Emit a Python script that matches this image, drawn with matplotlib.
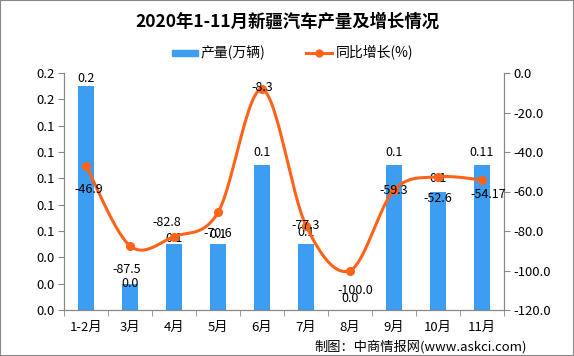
import numpy as np
import matplotlib
matplotlib.use('Agg')
import matplotlib.pyplot as plt
from matplotlib.patches import Rectangle
from matplotlib.ticker import FormatStrFormatter, MultipleLocator

plt.rcParams['font.family'] = ['Noto Sans CJK SC', 'DejaVu Sans']

# 数据
months = ['1-2月', '3月', '4月', '5月', '6月', '7月', '8月', '9月', '10月', '11月']
output = [0.17, 0.02, 0.05, 0.05, 0.11, 0.05, 0.0, 0.11, 0.09, 0.11]
output_labels = ['0.2', '0.0', '0.1', '0.1', '0.1', '0.1', '0.0', '0.1', '0.1', '0.11']
growth = [-46.9, -87.5, -82.8, -70.6, -8.3, -77.3, -100.0, -59.3, -52.6, -54.17]
growth_labels = ['-46.9', '-87.5', '-82.8', '-70.6', '-8.3', '-77.3', '-100.0', '-59.3', '-52.6', '-54.17']

# 标签偏移(像素)
bar_dy = [8, 0, 6, 10, 13, 12, 12, 13, 13, 13]
line_off = [(3, -24), (-3, -24), (-7, 14), (0, -21), (0, 2), (0, 0), (5, -20), (0, 0), (0, -22), (6, -15)]

bar_color = '#3D9DF0'
line_color = '#FF6319'


def catmull_rom(xs, ys, n=30):
    px = np.concatenate([[xs[0]], xs, [xs[-1]]])
    py = np.concatenate([[ys[0]], ys, [ys[-1]]])
    out_x, out_y = [], []
    t = np.linspace(0, 1, n)
    for i in range(1, len(px) - 2):
        for arr, out in ((px, out_x), (py, out_y)):
            p0, p1, p2, p3 = arr[i - 1], arr[i], arr[i + 1], arr[i + 2]
            out.extend(0.5 * (2 * p1 + (-p0 + p2) * t
                              + (2 * p0 - 5 * p1 + 4 * p2 - p3) * t ** 2
                              + (-p0 + 3 * p1 - 3 * p2 + p3) * t ** 3))
    return np.array(out_x), np.array(out_y)


fig = plt.figure(figsize=(5.74, 3.56), dpi=100)
ax = fig.add_axes([64 / 574, 46 / 356, 440 / 574, 237 / 356])
ax2 = ax.twinx()

x = np.arange(len(months))
ax.bar(x, output, width=0.37, color=bar_color, zorder=2)
ax.set_xlim(-0.5, len(months) - 0.5)
ax.set_ylim(0, 0.18)
ax.yaxis.set_major_locator(MultipleLocator(0.02))
ax.yaxis.set_major_formatter(FormatStrFormatter('%.1f'))
ax.set_xticks(x)
ax.set_xticklabels(months, fontsize=9.5)
ax.set_xticks(np.arange(-0.5, len(months)), minor=True)
ax.tick_params(axis='x', which='major', length=0, pad=8)
ax.tick_params(axis='x', which='minor', length=4, color='#888888')
ax.tick_params(axis='y', length=4, color='#888888', labelsize=9.5, pad=3)

sx, sy = catmull_rom(x.astype(float), np.array(growth))
ax2.plot(sx, sy, color=line_color, lw=2.2, zorder=3, solid_capstyle='round')
ax2.plot(x, growth, 'o', color=line_color, ms=5.5, zorder=4)
ax2.set_ylim(-120, 0)
ax2.yaxis.set_major_locator(MultipleLocator(20))
ax2.yaxis.set_major_formatter(FormatStrFormatter('%.1f'))
ax2.tick_params(axis='y', length=4, color='#888888', labelsize=9.5, pad=3)

for a in (ax, ax2):
    a.spines['top'].set_visible(False)
    for s in ('left', 'right', 'bottom'):
        a.spines[s].set_color('#888888')

for i in range(len(months)):
    ax.annotate(output_labels[i], (x[i], output[i]), xytext=(0, bar_dy[i] * 0.72),
                textcoords='offset points', ha='center', va='center', fontsize=9, zorder=5)
    dx, dy = line_off[i]
    ax2.annotate(growth_labels[i], (x[i], growth[i]), xytext=(dx * 0.72, dy * 0.72),
                 textcoords='offset points', ha='center', va='center', fontsize=9, zorder=5)

fig.text(0.5, 1 - 22 / 356, '2020年1-11月新疆汽车产量及增长情况', ha='center', va='center',
         fontsize=12.5, fontweight='bold')

# 图例
ly = 1 - 53 / 356
fig.patches.append(Rectangle((172 / 574, ly - 3 / 356), 26 / 574, 6 / 356, transform=fig.transFigure,
                             color=bar_color))
fig.text(201 / 574, ly, '产量(万辆)', va='center', fontsize=10)
fig.lines.append(plt.Line2D([306 / 574, 332 / 574], [ly, ly], transform=fig.transFigure,
                            color=line_color, lw=2.2))
fig.lines.append(plt.Line2D([319 / 574], [ly], transform=fig.transFigure,
                            color=line_color, marker='o', ms=5))
fig.text(336 / 574, ly, '同比增长(%)', va='center', fontsize=10)

fig.text(527 / 574, 1 - 347 / 356, '制图：中商情报网(www.askci.com)', ha='right', va='center', fontsize=9.5)

fig.patches.append(Rectangle((0, 0), 1, 1, transform=fig.transFigure, fill=False,
                             edgecolor='#888888', lw=1.5))

fig.savefig('out.png', dpi=100)
